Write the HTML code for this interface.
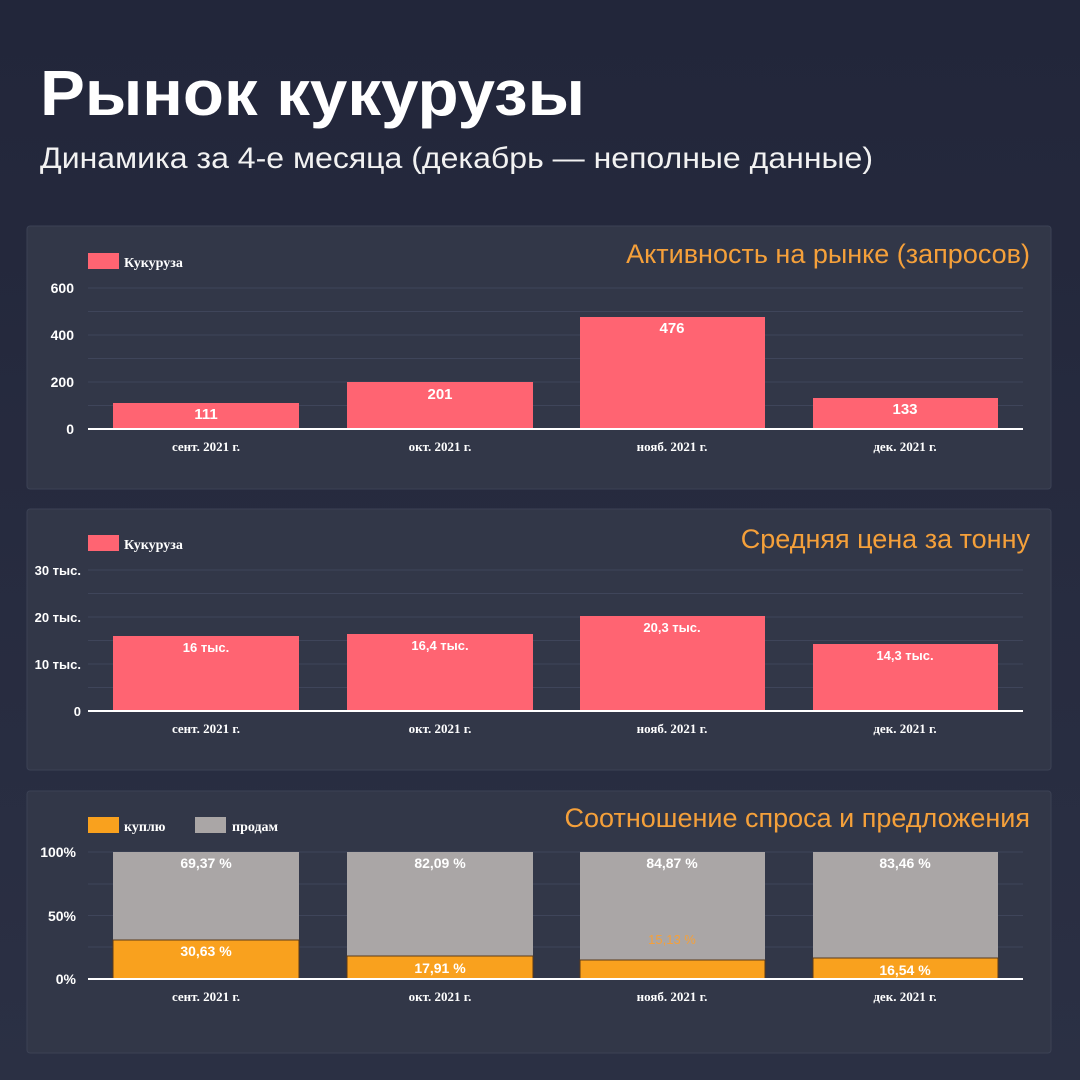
<!DOCTYPE html>
<html><head><meta charset="utf-8"><style>
html,body{margin:0;padding:0;width:1080px;height:1080px;overflow:hidden;background:#262b3b}
svg{display:block}
</style></head><body>
<svg width="1080" height="1080" xmlns="http://www.w3.org/2000/svg" font-family="'Liberation Sans', sans-serif">
<defs><linearGradient id="bg" x1="0" y1="0" x2="0" y2="1"><stop offset="0" stop-color="#22263a"/><stop offset="1" stop-color="#2b3044"/></linearGradient></defs>
<rect width="1080" height="1080" fill="url(#bg)"/>
<text x="40" y="115" fill="#fff" font-size="64" font-weight="bold" textLength="545" lengthAdjust="spacingAndGlyphs">Рынок кукурузы</text>
<text x="40" y="168" fill="#f2f2f2" font-size="30" textLength="833" lengthAdjust="spacingAndGlyphs">Динамика за 4-е месяца (декабрь — неполные данные)</text>

<!-- Panel 1 -->
<rect x="27" y="226" width="1024" height="263" rx="3" fill="#323748" stroke="#3c4255"/>
<text x="1030" y="263" fill="#f5a03a" font-size="27" text-anchor="end">Активность на рынке (запросов)</text>
<rect x="88" y="253" width="31" height="16" fill="#ff6472"/>
<text x="124" y="267" fill="#fff" font-size="14" font-family="'Liberation Serif',serif" font-weight="bold">Кукуруза</text>
<g stroke="#3f455a" stroke-width="1">
<line x1="88" x2="1023" y1="288" y2="288"/><line x1="88" x2="1023" y1="311.5" y2="311.5"/><line x1="88" x2="1023" y1="335" y2="335"/><line x1="88" x2="1023" y1="358.5" y2="358.5"/><line x1="88" x2="1023" y1="382" y2="382"/><line x1="88" x2="1023" y1="405.5" y2="405.5"/>
</g>
<g fill="#fff" font-size="14" font-weight="bold" text-anchor="end">
<text x="74" y="293">600</text><text x="74" y="340">400</text><text x="74" y="387">200</text><text x="74" y="434">0</text></g>
<g fill="#ff6472"><rect x="113" y="403" width="186" height="26"/><rect x="347" y="382" width="186" height="47"/><rect x="580" y="317" width="185" height="112"/><rect x="813" y="398" width="185" height="31"/></g>
<line x1="88" x2="1023" y1="429" y2="429" stroke="#fff" stroke-width="2"/>
<g fill="#fff" font-size="15" font-weight="bold" text-anchor="middle">
<text x="206" y="419">111</text><text x="440" y="399">201</text><text x="672" y="333">476</text><text x="905" y="414">133</text></g>
<g fill="#fff" font-size="13" font-weight="bold" text-anchor="middle" font-family="'Liberation Serif',serif">
<text x="206" y="451">сент. 2021 г.</text><text x="440" y="451">окт. 2021 г.</text><text x="672" y="451">нояб. 2021 г.</text><text x="905" y="451">дек. 2021 г.</text></g>

<!-- Panel 2 -->
<rect x="27" y="509" width="1024" height="261" rx="3" fill="#323748" stroke="#3c4255"/>
<text x="1030" y="548" fill="#f5a03a" font-size="27" text-anchor="end">Средняя цена за тонну</text>
<rect x="88" y="535" width="31" height="16" fill="#ff6472"/>
<text x="124" y="549" fill="#fff" font-size="14" font-family="'Liberation Serif',serif" font-weight="bold">Кукуруза</text>
<g stroke="#3f455a" stroke-width="1">
<line x1="88" x2="1023" y1="570" y2="570"/><line x1="88" x2="1023" y1="593.5" y2="593.5"/><line x1="88" x2="1023" y1="617" y2="617"/><line x1="88" x2="1023" y1="640.5" y2="640.5"/><line x1="88" x2="1023" y1="664" y2="664"/><line x1="88" x2="1023" y1="687.5" y2="687.5"/>
</g>
<g fill="#fff" font-size="13" font-weight="bold" text-anchor="end">
<text x="81" y="575">30 тыс.</text><text x="81" y="622">20 тыс.</text><text x="81" y="669">10 тыс.</text><text x="81" y="716">0</text></g>
<g fill="#ff6472"><rect x="113" y="636" width="186" height="75"/><rect x="347" y="634" width="186" height="77"/><rect x="580" y="616" width="185" height="95"/><rect x="813" y="644" width="185" height="67"/></g>
<line x1="88" x2="1023" y1="711" y2="711" stroke="#fff" stroke-width="2"/>
<g fill="#fff" font-size="13" font-weight="bold" text-anchor="middle">
<text x="206" y="652">16 тыс.</text><text x="440" y="650">16,4 тыс.</text><text x="672" y="632">20,3 тыс.</text><text x="905" y="660">14,3 тыс.</text></g>
<g fill="#fff" font-size="13" font-weight="bold" text-anchor="middle" font-family="'Liberation Serif',serif">
<text x="206" y="733">сент. 2021 г.</text><text x="440" y="733">окт. 2021 г.</text><text x="672" y="733">нояб. 2021 г.</text><text x="905" y="733">дек. 2021 г.</text></g>

<!-- Panel 3 -->
<rect x="27" y="791" width="1024" height="262" rx="3" fill="#323748" stroke="#3c4255"/>
<text x="1030" y="827" fill="#f5a03a" font-size="27" text-anchor="end">Соотношение спроса и предложения</text>
<rect x="88" y="817" width="31" height="16" fill="#f9a11e"/>
<text x="124" y="831" fill="#fff" font-size="14" font-family="'Liberation Serif',serif" font-weight="bold">куплю</text>
<rect x="195" y="817" width="31" height="16" fill="#aaa6a6"/>
<text x="232" y="831" fill="#fff" font-size="14" font-family="'Liberation Serif',serif" font-weight="bold">продам</text>
<g stroke="#3f455a" stroke-width="1">
<line x1="88" x2="1023" y1="852" y2="852"/><line x1="88" x2="1023" y1="884" y2="884"/><line x1="88" x2="1023" y1="915.5" y2="915.5"/><line x1="88" x2="1023" y1="947" y2="947"/>
</g>
<g fill="#fff" font-size="14" font-weight="bold" text-anchor="end">
<text x="76" y="857">100%</text><text x="76" y="921">50%</text><text x="76" y="984">0%</text></g>
<g fill="#aaa6a6"><rect x="113" y="852" width="186" height="127"/><rect x="347" y="852" width="186" height="127"/><rect x="580" y="852" width="185" height="127"/><rect x="813" y="852" width="185" height="127"/></g>
<g fill="#f9a11e" stroke="#5a3a1a" stroke-width="1"><rect x="113" y="940" width="186" height="39"/><rect x="347" y="956" width="186" height="23"/><rect x="580" y="960" width="185" height="19"/><rect x="813" y="958" width="185" height="21"/></g>
<line x1="88" x2="1023" y1="979" y2="979" stroke="#fff" stroke-width="2"/>
<g fill="#fff" font-size="14" font-weight="bold" text-anchor="middle">
<text x="206" y="868">69,37 %</text><text x="440" y="868">82,09 %</text><text x="672" y="868">84,87 %</text><text x="905" y="868">83,46 %</text>
<text x="206" y="956">30,63 %</text><text x="440" y="973">17,91 %</text><text x="905" y="975">16,54 %</text></g>
<text x="672" y="944" fill="#f5a03a" font-size="13" text-anchor="middle">15,13 %</text>
<g fill="#fff" font-size="13" font-weight="bold" text-anchor="middle" font-family="'Liberation Serif',serif">
<text x="206" y="1001">сент. 2021 г.</text><text x="440" y="1001">окт. 2021 г.</text><text x="672" y="1001">нояб. 2021 г.</text><text x="905" y="1001">дек. 2021 г.</text></g>
</svg>
</body></html>
